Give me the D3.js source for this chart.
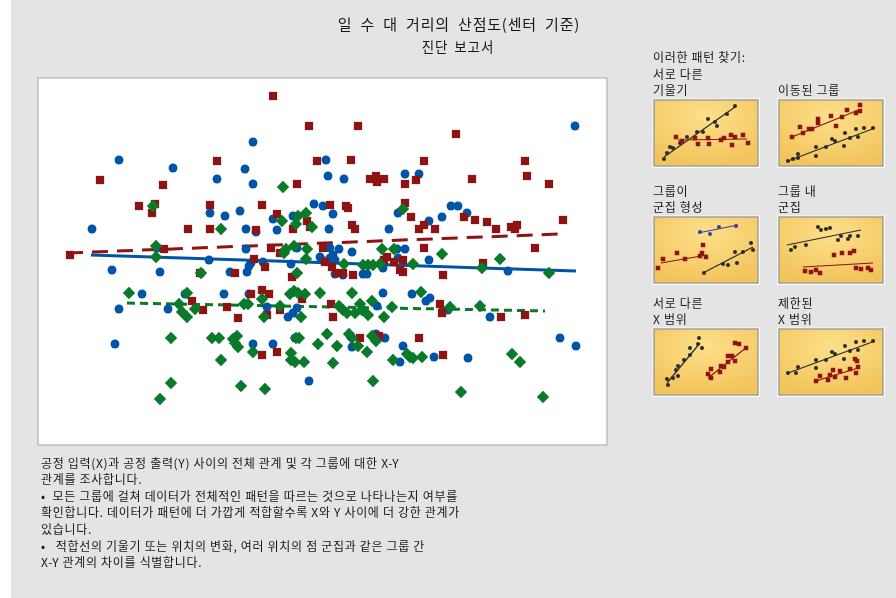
<!DOCTYPE html>
<html>
<head>
<meta charset="utf-8">
<script src="https://cdn.jsdelivr.net/npm/d3@7"></script>
<style>
    html, body { margin: 0; padding: 0; background: #fff; }
    svg { display: block; filter: blur(0.35px); }
    text { font-family: "Noto Sans CJK KR", sans-serif; fill: #161616; filter: blur(0.25px); }
    .small { font-size: 12px; letter-spacing: 0.68px; white-space: pre; }
</style>
</head>
<body>
<div id="chart"></div>
<script>
// values: [일 수, 거리]
const redPoints = [
    [117.5,174.5],[135.5,159.5],[89.5,142],[139.5,142],[31,132.5],[62.5,130],[129.5,130.5],[50.5,119.5],
    [58.5,120.5],[57,116],[86,120],[112,120],[119.5,115.5],[146,120],[75,108],[86,108],[109,107.5],[127.5,108],
    [134.5,112],[136,109],[16,95],[63,98],[116.5,98.5],[121,96],[142.5,98.5],[108,93],[160,159.5],[209,155.5],
    [156.5,142.5],[193,142],[243.5,142],[244.5,134.5],[217,133],[255.5,130.5],[166,133],[169,134.5],[173,133],
    [169.5,131.5],[183.5,130.5],[189,132.5],[183.5,121],[154,119.5],[155,118.5],[186.5,114],[213,114],[218.5,112.5],
    [224.5,111.5],[262.5,112.5],[157,110],[158.5,108],[193,110],[190.5,108],[198.5,108],[229,108],[236.5,109],
    [239.5,110],[238.5,108],[193,98.5],[248.5,98.5],[143.5,91.5],[147,89],[149.5,86],[152.5,86],[157.5,85],
    [174.5,94],[173,92.5],[178,91.5],[182.5,92.5],[181,87.5],[182.5,86.5],[202.5,85],[222.5,91],[81,86],[98.5,86],
    [113.5,89],[127,84],[106.5,75.5],[112,77.5],[115.5,75.5],[132,73],[77,72],[82.5,67.5],[94.5,69],[100,63.5],
    [114.5,65],[121,67.5],[146.5,70.5],[147.5,64],[112,45],[119.5,46.5],[161,53.5],[170.5,54.5],[190.5,53.5],
    [201,70.5],[202,66],[202.5,45],[231.5,64],[243.5,65]
]
const bluePoints = [
    [40.5,142.5],[67.5,138.5],[107.5,151.5],[103.5,138],[89.5,133],[107.5,130.5],[144,142.5],[145,134.5],[138,120.5],
    [142.5,119.5],[101,117],[93.5,114.5],[86,116],[117.5,113],[127.5,114.5],[27,108],[104,108],[109,106.5],
    [119.5,107.5],[145.5,108],[104,98],[59.5,98.5],[129.5,98.5],[141,94],[153,133],[183.5,135.5],[190.5,135.5],
    [147.5,115.5],[175.5,108],[180,116],[195.5,112],[202,114],[206.5,119.5],[210,119.5],[214.5,116],[268.5,159.5],
    [157,96.5],[150.5,98],[183.5,98],[179.5,98],[195.5,92.5],[146,98.5],[147.5,95],[146,93.5],[148.5,92.5],[142,92.5],
    [235,87],[162.5,85.5],[164.5,85.5],[172.5,88.5],[180,93.5],[152.5,85],[148.5,85.5],[85.5,92.5],[37,87.5],[61,86.5],
    [96,86.5],[104.5,86.5],[105.5,89.5],[106.5,91],[112.5,91.5],[126.5,90.5],[52,75.5],[73.5,75.5],[93,75.5],[105.5,75.5],
    [40.5,68],[65,68],[114.5,69],[125,64],[127.5,66],[129.5,68.5],[38.5,50.5],[107.5,50.5],[117.5,50.5],[128.5,53.5],
    [135.5,32],[172.5,76],[169.5,69.5],[187,75.5],[194,72],[196,73.5],[226,64],[205,67.5],[169,55.5],[173.5,53.5],
    [157,49],[182.5,49.5],[181,41.5],[198,44],[215,43.5],[261,53.5],[269,49.5]
]
const greenPoints = [
    [122.5,129],[57.5,119.5],[122,112],[130,114.5],[134,116],[129,110.5],[137,109],[91.5,108],[59,99.5],[128,99.5],
    [134.5,98],[124,98],[123,96],[59,94],[134,93],[182.5,118],[172,98],[178,98],[202,95.5],[231,93],[129.5,86],[81.5,86],
    [153,90.5],[187.5,90.5],[162.5,90],[165,90],[167.5,90],[171,90.5],[222,88.5],[255.5,86],[45.5,76],[74.5,76],[128,77],
    [126,75.5],[130,76],[133.5,75.5],[141,76],[112,73],[70.5,70.5],[105,70.5],[103,70.5],[121,69.5],[78.5,68],[72,66.5],
    [74.5,64],[113,64],[131.5,64],[66.5,53.5],[87,53.5],[90.5,53.5],[99.5,54.5],[97.5,53],[98.5,51],[100,49],[129,53.5],
    [130.5,53.5],[144.5,55.5],[140,50.5],[107.5,46.5],[126.5,46],[126.5,42.5],[128.5,41.5],[133,41.5],[91.5,42.5],[66.5,31],
    [101.5,29.5],[113.5,28],[61,23],[157,76],[191.5,76.5],[167,72],[161,70.5],[150.5,69.5],[152.5,67.5],[154.5,66],
    [158.5,66],[162,67.5],[165,65],[173,64],[177,69],[206,69],[221,69.5],[149.5,49.5],[155.5,55.5],[157,53.5],[160,49.5],
    [164.5,46.5],[167,54.5],[169,52],[147.5,41],[167.5,32],[177.5,42.5],[184.5,45.5],[186,44],[187.5,43.5],[192,44],
    [211.5,26.5],[237,45.5],[241,41.5],[252.5,24]
]
const redFit   = [[14.5,96],[261,105.5]]
const blueFit  = [[26.5,95],[269,87]]
const greenFit = [[44.5,71],[253.5,67]]

// thumbnails, in their own small [x, y] units
const slopeBlack = [[10,59],[13,53],[16,47],[19,48],[26,43],[33,37],[43,32],[49,32],[54,19],[61,22],[63,26],[73,14],[81,6]]
const slopeRed   = [[22,37],[28,41],[41,38],[44,44],[54,38],[55,44],[67,40],[70,38],[77,35],[81,37],[89,35],[78,45],[94,43]]
const shiftRed   = [[13,37],[21,27],[24,33],[30,29],[33,29],[39,19],[39,23],[52,16],[57,26],[63,17],[68,10],[77,13],[81,11],[81,5]]
const shiftBlack = [[9,61],[14,59],[19,54],[19,58],[37,47],[37,56],[47,47],[53,39],[56,41],[65,46],[66,33],[71,38],[77,29],[79,37],[85,28],[94,28]]
const groupBlue  = [[46,15],[56,17],[65,10],[82,9]]
const groupRed   = [[4,51],[9,42],[23,36],[31,42],[46,39],[49,28],[48,36],[52,40]]
const groupBlack = [[50,56],[69,47],[74,48],[83,46],[81,35],[89,35],[97,26],[99,33]]
const innerBlack = [[39,10],[42,13],[47,12],[51,11],[12,33],[16,30],[27,28],[59,23],[62,19],[69,22],[71,19],[79,19]]
const innerRed   = [[55,38],[63,36],[71,36],[75,34],[26,54],[32,55],[37,53],[41,56],[77,51],[82,52],[89,51],[92,53]]
const rangeBlack = [[13,50],[14,56],[19,49],[24,47],[22,41],[24,37],[30,31],[36,26],[36,19],[45,9],[44,15],[48,19]]
const rangeRed   = [[54,45],[57,40],[57,49],[67,37],[70,38],[66,43],[74,27],[78,27],[74,33],[81,32],[81,14],[85,15],[92,19]]
const limitBlack = [[9,44],[19,38],[17,44],[37,31],[37,39],[47,31],[53,23],[56,25],[65,30],[66,17],[71,22],[77,13],[79,21],[85,12],[94,12]]
const limitRed   = [[37,52],[41,47],[49,51],[51,46],[54,41],[56,48],[61,42],[67,49],[71,40],[76,30],[78,32],[79,38],[77,44]]

const titleText    = '일 수 대 거리의 산점도(센터 기준)'
const subtitleText = '진단 보고서'
const hintText     = ['이러한 패턴 찾기:']
const notes = [
    '공정 입력(X)과 공정 출력(Y) 사이의 전체 관계 및 각 그룹에 대한 X-Y',
    '관계를 조사합니다.',
    '•  모든 그룹에 걸쳐 데이터가 전체적인 패턴을 따르는 것으로 나타나는지 여부를',
    '확인합니다. 데이터가 패턴에 더 가깝게 적합할수록 X와 Y 사이에 더 강한 관계가',
    '있습니다.',
    '•   적합선의 기울기 또는 위치의 변화, 여러 위치의 점 군집과 같은 그룹 간',
    'X-Y 관계의 차이를 식별합니다.'
]

const RED   = '#8f1313'
const BLUE  = '#0054a8'
const GREEN = '#087a2a'
const INK   = '#2b2b2b'

const WIDTH  = 896
const HEIGHT = 598

const svg = d3.select('#chart').append('svg')
    .attr('width', WIDTH)
    .attr('height', HEIGHT)

const defs = svg.append('defs')
const glow = defs.append('radialGradient')
    .attr('id', 'thumb')
    .attr('cx', '50%').attr('cy', '25%').attr('r', '75%')
glow.append('stop').attr('offset', '0%').attr('stop-color', '#fde08a')
glow.append('stop').attr('offset', '100%').attr('stop-color', '#f2c45c')

svg.append('rect')
    .attr('x', 11)
    .attr('width', WIDTH - 11)
    .attr('height', HEIGHT)
    .attr('fill', '#e4e4e4')

// main plot
const x = d3.scaleLinear().domain([0, 284.5]).range([38, 607])
const y = d3.scaleLinear().domain([0, 183.5]).range([445, 78])

svg.append('rect')
    .attr('x', x(0))
    .attr('y', y(183.5))
    .attr('width', x(284.5) - x(0))
    .attr('height', y(0) - y(183.5))
    .attr('fill', '#fff')
    .attr('stroke', '#b2b2b2')
    .attr('stroke-width', 1.2)

const line = d3.line().x(d => x(d[0])).y(d => y(d[1]))
const plot = svg.append('g')

plot.append('path').attr('d', line(blueFit))
    .attr('fill', 'none').attr('stroke', BLUE).attr('stroke-width', 3)
plot.append('path').attr('d', line(redFit))
    .attr('fill', 'none').attr('stroke', RED).attr('stroke-width', 3).attr('stroke-dasharray', '16 9')
plot.append('path').attr('d', line(greenFit))
    .attr('fill', 'none').attr('stroke', GREEN).attr('stroke-width', 3).attr('stroke-dasharray', '8 5')

const marker = (group, points, type, size, color, sx, sy) => group.selectAll(null)
    .data(points)
    .join('path')
    .attr('d', d3.symbol().type(type).size(size)())
    .attr('transform', d => `translate(${sx(d[0])},${sy(d[1])})`)
    .attr('fill', color)

const diamond = {
    draw(context, size) {
        const r = Math.sqrt(size / 2)
        context.moveTo(0, -r)
        context.lineTo(r, 0)
        context.lineTo(0, r)
        context.lineTo(-r, 0)
        context.closePath()
    }
}

marker(plot, bluePoints, d3.symbolCircle, 62, BLUE, x, y)
marker(plot, redPoints, d3.symbolSquare, 68, RED, x, y)
marker(plot, greenPoints, diamond, 76, GREEN, x, y)

// headings
svg.append('text')
    .attr('x', 459).attr('y', 30)
    .attr('text-anchor', 'middle')
    .attr('font-size', 15)
    .attr('letter-spacing', 0.8)
    .attr('word-spacing', 4)
    .text(titleText)

svg.append('text')
    .attr('x', 458).attr('y', 51.5)
    .attr('text-anchor', 'middle')
    .attr('font-size', 13.5)
    .attr('letter-spacing', 0.9)
    .attr('word-spacing', 2)
    .text(subtitleText)

svg.selectAll('.note')
    .data(notes)
    .join('text')
    .attr('class', 'note small')
    .attr('x', 41)
    .attr('y', (d, i) => 467.5 + i * 16.6)
    .text(d => d)

svg.append('text')
    .attr('class', 'small')
    .attr('x', 653).attr('y', 61.5)
    .text(hintText[0])

// pattern thumbnails
const thumbX = d3.scaleLinear().domain([0, 104]).range([0, 104])
const thumbY = d3.scaleLinear().domain([0, 66]).range([0, 66])

const thumbs = [
    { col: 0, row: 0, label: ['서로 다른', '기울기'], series: [
        { points: slopeBlack, color: INK, fit: [[10,57],[81,7]] },
        { points: slopeRed, color: RED, fit: [[24,40],[93,39]] }
    ] },
    { col: 1, row: 0, label: ['', '이동된 그룹'], series: [
        { points: shiftRed, color: RED, fit: [[13,37],[82,9]] },
        { points: shiftBlack, color: INK, fit: [[9,61],[96,28]] }
    ] },
    { col: 0, row: 1, label: ['그룹이', '군집 형성'], series: [
        { points: groupBlue, color: '#3a3f9c', fit: [[44,16],[84,8]] },
        { points: groupRed, color: RED, fit: [[7,46],[53,38]] },
        { points: groupBlack, color: INK, fit: [[49,56],[99,30]] }
    ] },
    { col: 1, row: 1, label: ['그룹 내', '군집'], series: [
        { points: innerBlack, color: INK, fit: [[8,28],[82,13]] },
        { points: innerRed, color: RED, fit: [[24,50],[94,46]] }
    ] },
    { col: 0, row: 2, label: ['서로 다른', 'X 범위'], series: [
        { points: rangeBlack, color: INK, fit: [[13,54],[46,14]] },
        { points: rangeRed, color: RED, fit: [[54,49],[93,18]] }
    ] },
    { col: 1, row: 2, label: ['제한된', 'X 범위'], series: [
        { points: limitBlack, color: INK, fit: [[9,44],[96,12]] },
        { points: limitRed, color: RED, fit: [[37,52],[79,39]] }
    ] }
]

const colLeft = [654, 779]
const rowTop  = [100, 217, 329]

const thumbLine = d3.line().x(d => thumbX(d[0])).y(d => thumbY(d[1]))

thumbs.forEach(t => {
    const g = svg.append('g')
        .attr('transform', `translate(${colLeft[t.col]},${rowTop[t.row]})`)

    g.selectAll('.label')
        .data(t.label)
        .join('text')
        .attr('class', 'label small')
        .attr('x', -1)
        .attr('y', (d, i) => i * 16.5 - 21.5)
        .text(d => d)

    g.append('rect')
        .attr('x', -1.5).attr('y', -1.5)
        .attr('width', 107.5).attr('height', 69.5)
        .attr('fill', '#fff')
    g.append('rect')
        .attr('width', 104).attr('height', 66)
        .attr('fill', 'url(#thumb)')
        .attr('stroke', '#9a9a9a')
        .attr('stroke-width', 1.4)

    t.series.forEach(s => {
        g.append('path')
            .attr('d', thumbLine(s.fit))
            .attr('fill', 'none')
            .attr('stroke', s.color)
            .attr('stroke-width', 1.2)
        marker(g, s.points, s.color === RED ? d3.symbolSquare : d3.symbolCircle, s.color === RED ? 20 : 13, s.color, thumbX, thumbY)
    })
})
</script>
</body>
</html>
